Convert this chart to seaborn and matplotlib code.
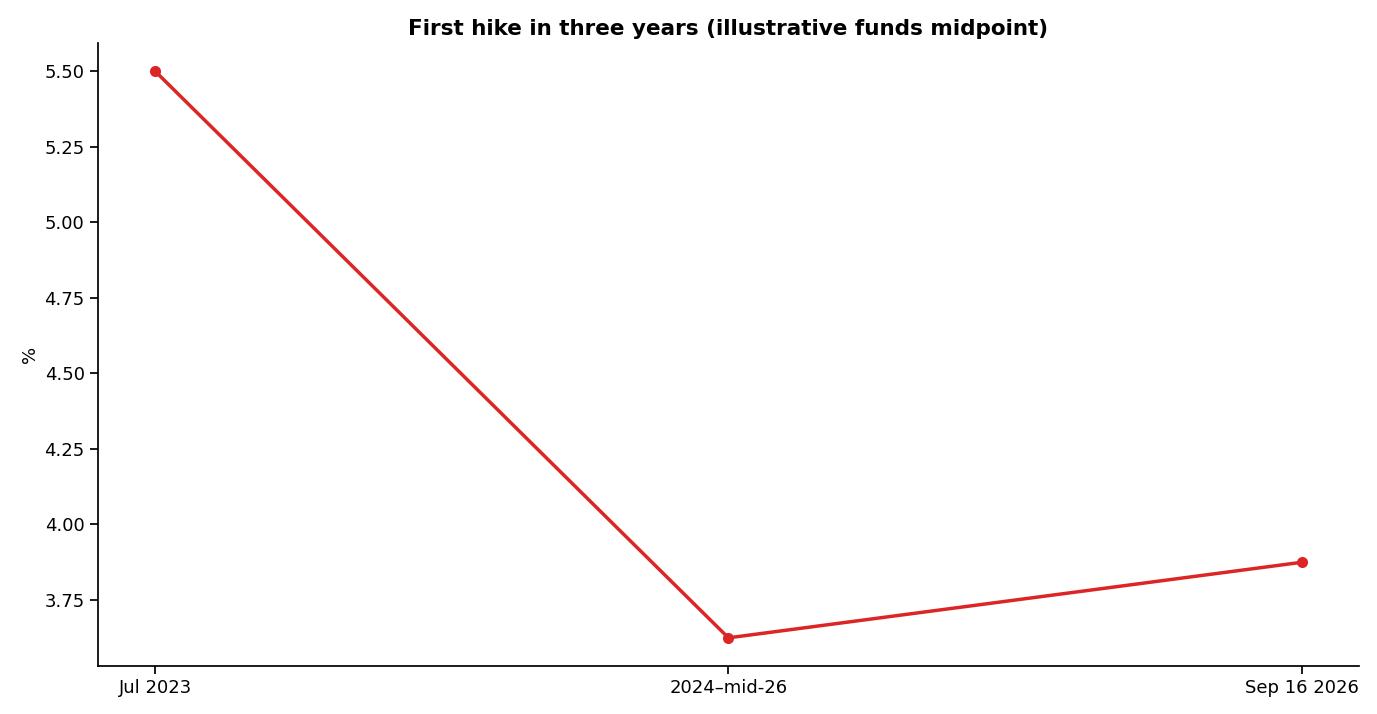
import matplotlib
matplotlib.use("Agg")
import matplotlib.pyplot as plt
import seaborn as sns
import pandas as pd

labels = ["Jul 2023", "2024–mid-26", "Sep 16 2026"]
values = [5.50, 3.625, 3.875]

sns.set_theme(style="ticks")
plt.rcParams['font.family'] = ['DejaVu Sans']
plt.rcParams.update({"text.color": "black", "axes.labelcolor": "black",
                     "xtick.color": "black", "ytick.color": "black",
                     "axes.edgecolor": "black"})
df = pd.DataFrame({"x": range(len(labels)), "y": values})
fig, ax = plt.subplots(figsize=(13.77, 7.14), dpi=100)
sns.lineplot(data=df, x="x", y="y", ax=ax, color="#dc2626", linewidth=2.5,
             marker="o", markersize=8, markeredgewidth=0)
ax.set_xticks(range(len(labels)))
ax.set_xticklabels(labels, fontsize=13)
ax.tick_params(axis='y', labelsize=13)
ax.set_yticks([3.75, 4.0, 4.25, 4.5, 4.75, 5.0, 5.25, 5.5])
ax.set_xlabel("")
ax.set_ylabel("%", fontsize=13)
ax.set_title("First hike in three years (illustrative funds midpoint)", fontsize=15.5, fontweight="bold", color="black")
ax.set_xlim(-0.1, 2.1)
sns.despine(ax=ax)
fig.subplots_adjust(left=0.071, right=0.987, top=0.94, bottom=0.067)
fig.savefig("out.png", dpi=100)
